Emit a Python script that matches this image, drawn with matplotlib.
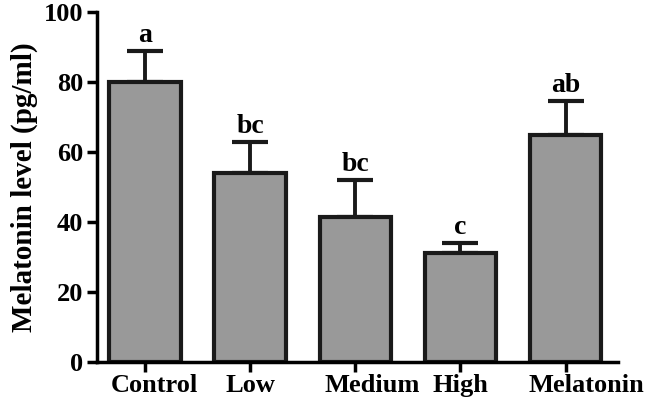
import matplotlib.pyplot as plt
import numpy as np

groups = ["Control", "Low", "Medium", "High", "Melatonin"]
means = [80, 54, 41.5, 31, 65]
errs = [9, 9, 10.5, 3, 9.5]
letters = ["a", "bc", "bc", "c", "ab"]
yticks = [0, 20, 40, 60, 80, 100]

plt.rcParams["font.family"] = "Liberation Serif"
plt.rcParams["font.weight"] = "bold"

fig = plt.figure(figsize=(6.46, 4.03), dpi=100)
ax = fig.add_axes([0.150, 0.102, 0.807, 0.868])

x = np.arange(len(groups))
ax.bar(x, means, width=0.68, color="#999999", edgecolor="#1a1a1a", linewidth=3, zorder=2)
ax.errorbar(x, means, yerr=[np.zeros(len(errs)), errs], fmt="none", ecolor="#1a1a1a",
            elinewidth=2.8, capsize=13, capthick=3, zorder=1)
for xi, m, e, t in zip(x, means, errs, letters):
    ax.text(xi, m + e + 0.8, t, ha="center", va="bottom", fontsize=20, fontweight="bold")

ax.set_xlim(-0.457, 4.5)
ax.set_ylim(0, 100)
ax.set_yticks(yticks)
ax.set_xticks(x)
ax.set_xticklabels([])
# category labels are slightly offset from their ticks in the original
offsets = [0.09, 0.0, 0.16, 0.0, 0.2]
for xi, g, o in zip(x, groups, offsets):
    ax.text(xi + o, -3.5, g, ha="center", va="top", fontsize=19, fontweight="bold")

for s in ["top", "right"]:
    ax.spines[s].set_visible(False)
for s in ["left", "bottom"]:
    ax.spines[s].set_linewidth(2.5)
ax.tick_params(axis="both", width=2.5, length=7, labelsize=19)
ax.tick_params(axis="y", pad=3)
ax.set_ylabel("Melatonin level (pg/ml)", fontsize=21, fontweight="bold", labelpad=4)

fig.savefig("out.png", dpi=100)
